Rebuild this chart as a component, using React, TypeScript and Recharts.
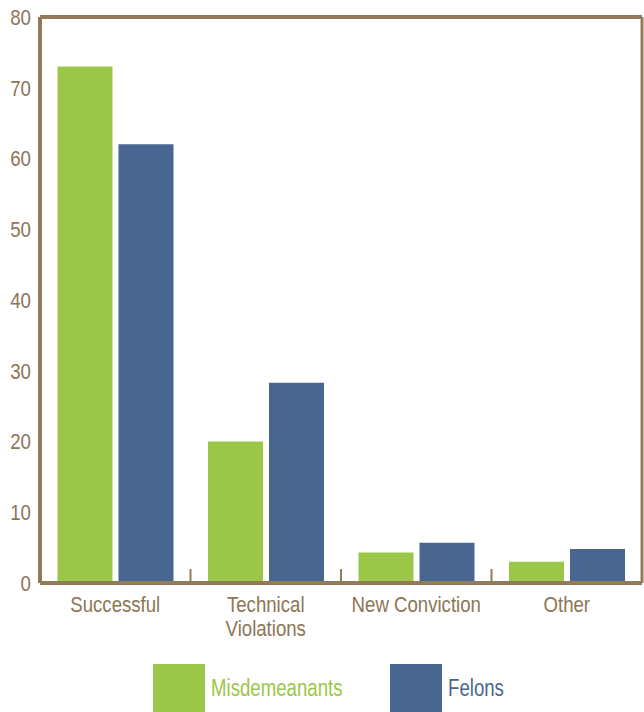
import { Bar, BarChart, CartesianGrid, ReferenceLine, XAxis, YAxis } from 'recharts';

const CATEGORIES = ['Successful', 'Technical\nViolations', 'New Conviction', 'Other'];
const MISDEMEANANTS = [73, 20, 4.3, 3.0];
const FELONS = [62, 28.3, 5.7, 4.8];
const Y_TICKS = [0, 10, 20, 30, 40, 50, 60, 70, 80];

const GREEN = '#9AC748';
const BLUE = '#48668F';
const BROWN = '#937A5A';
const TEXT = '#8C7556';
const FONT = "'Liberation Sans', Arial, sans-serif";
// the reference uses a narrow face; squeeze the regular one horizontally
const SQUEEZE = 0.81;

const data = CATEGORIES.map((name, i) => ({
  name,
  misdemeanants: MISDEMEANANTS[i],
  felons: FELONS[i],
}));

function CategoryTick(props: any) {
  const { x, y, payload, index } = props;
  const half = payload?.offset ?? 75;
  const lines = String(payload.value).split('\n');
  return (
    <g>
      {index > 0 && (
        <line x1={x - half} x2={x - half} y1={y - 14} y2={y} stroke={BROWN} strokeWidth={2} />
      )}
      <g transform={`translate(${x},${y}) scale(${SQUEEZE},1)`}>
        {lines.map((l, i) => (
          <text
            key={i}
            x={0}
            y={29 + i * 24}
            textAnchor="middle"
            fontSize={23}
            fontFamily={FONT}
            fill={TEXT}
          >
            {l}
          </text>
        ))}
      </g>
    </g>
  );
}

function ValueTick(props: any) {
  const { x, y, payload } = props;
  return (
    <g transform={`translate(${x},${y}) scale(0.85,1)`}>
      <text x={0} y={0} dy="0.36em" textAnchor="end" fontSize={22} fontFamily={FONT} fill={TEXT}>
        {payload.value}
      </text>
    </g>
  );
}

function LegendItem({ color, label }: { color: string; label: string }) {
  return (
    <div style={{ display: 'flex', alignItems: 'center' }}>
      <div style={{ width: 52, height: 48, background: color }} />
      <span
        style={{
          marginLeft: 6,
          color,
          fontSize: 23,
          fontFamily: FONT,
          display: 'inline-block',
          transform: `scaleX(${SQUEEZE})`,
          transformOrigin: 'left center',
          whiteSpace: 'nowrap',
        }}
      >
        {label}
      </span>
    </div>
  );
}

export default function App() {
  return (
    <div style={{ position: 'absolute', left: 0, top: 0, width: 644, height: 712, background: '#fff' }}>
      <BarChart
        width={644}
        height={650}
        data={data}
        margin={{ top: 17, right: 0, bottom: 0, left: 0 }}
        barCategoryGap={17.5}
        barGap={6}
      >
        <CartesianGrid vertical={false} stroke={BROWN} strokeWidth={2.5} />
        <XAxis
          dataKey="name"
          height={67}
          interval={0}
          tickSize={0}
          tickMargin={0}
          tickLine={false}
          axisLine={{ stroke: BROWN, strokeWidth: 4 }}
          tick={<CategoryTick />}
        />
        <YAxis
          yAxisId="left"
          width={40}
          domain={[0, 80]}
          ticks={Y_TICKS}
          interval={0}
          tickLine={false}
          tickSize={0}
          tickMargin={9}
          axisLine={{ stroke: BROWN, strokeWidth: 4 }}
          tick={<ValueTick />}
        />
        <YAxis
          yAxisId="right"
          orientation="right"
          width={2}
          domain={[0, 80]}
          tick={false}
          tickLine={false}
          axisLine={{ stroke: BROWN, strokeWidth: 3 }}
        />
        <ReferenceLine yAxisId="left" y={80} stroke={BROWN} strokeWidth={4} />
        <Bar yAxisId="left" dataKey="misdemeanants" fill={GREEN} isAnimationActive={false} />
        <Bar yAxisId="left" dataKey="felons" fill={BLUE} isAnimationActive={false} />
      </BarChart>
      <div style={{ position: 'absolute', top: 664, left: 153, display: 'flex' }}>
        <div style={{ width: 237 }}>
          <LegendItem color={GREEN} label="Misdemeanants" />
        </div>
        <LegendItem color={BLUE} label="Felons" />
      </div>
    </div>
  );
}
